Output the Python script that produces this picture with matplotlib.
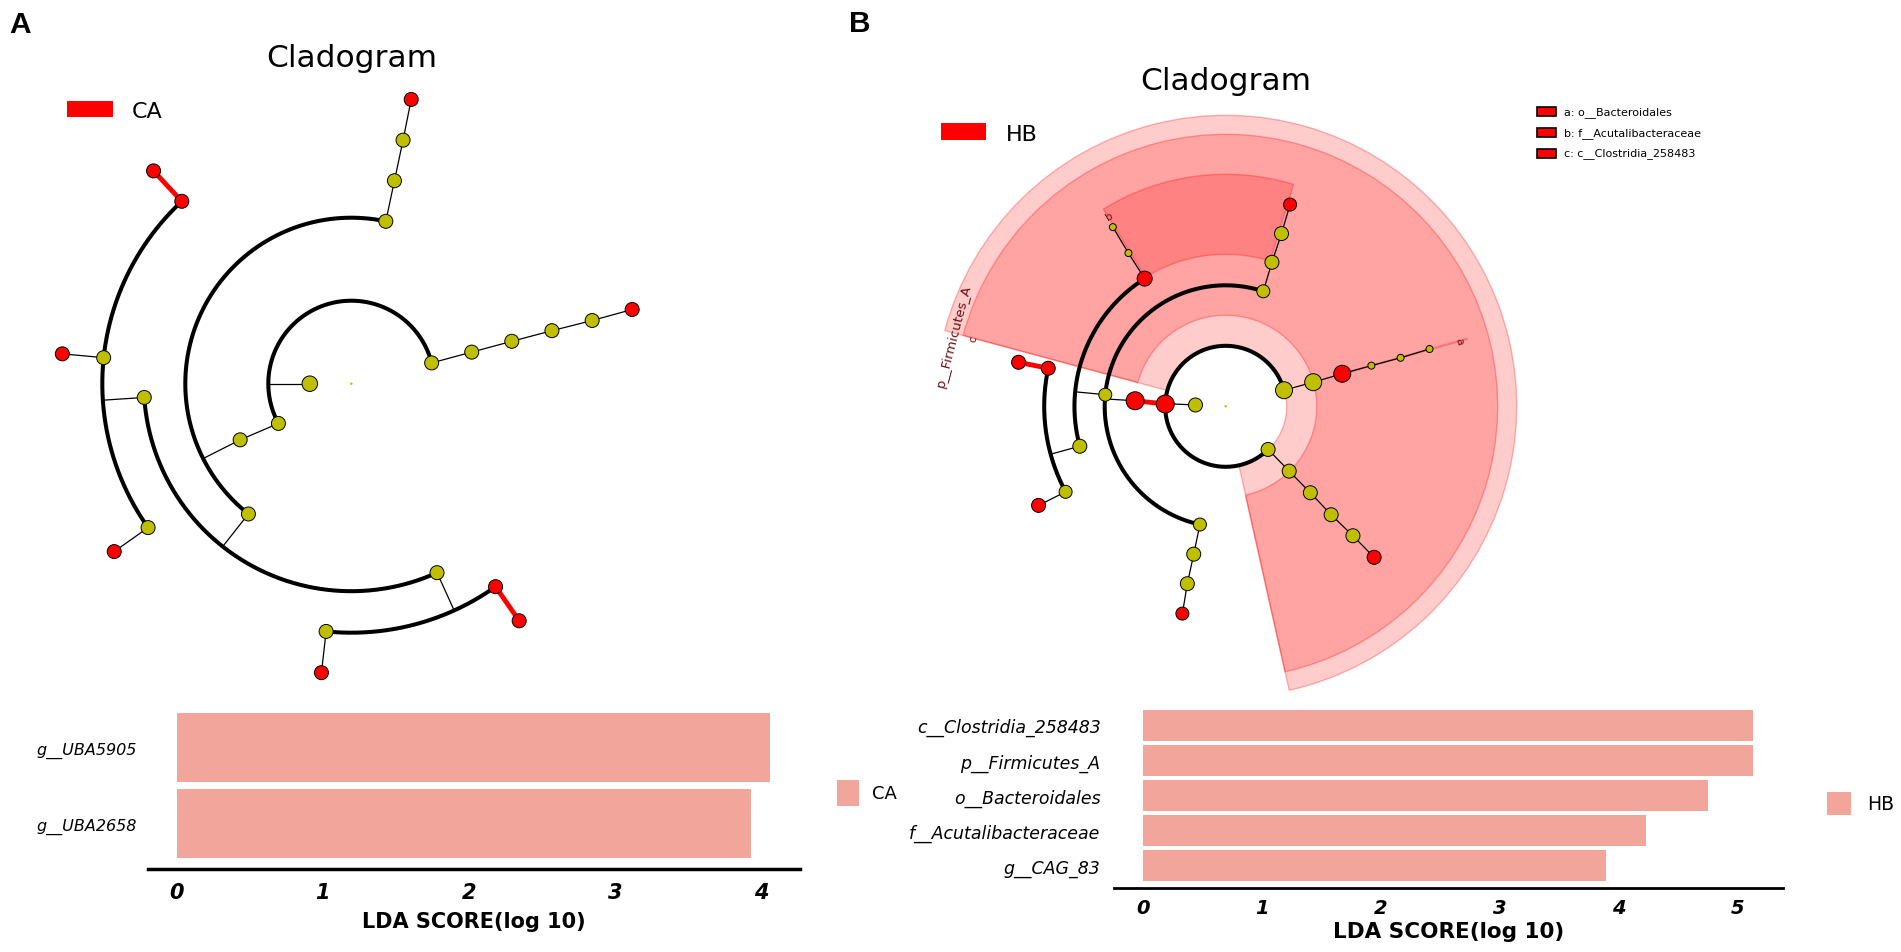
import numpy as np
import matplotlib
matplotlib.use("Agg")
import matplotlib.pyplot as plt
from matplotlib.patches import Rectangle

W, H, DPI = 1901, 953, 100
fig = plt.figure(figsize=(W / DPI, H / DPI), dpi=DPI)
fig.patch.set_facecolor('white')
plt.rcParams['font.family'] = ['DejaVu Sans']

def fx(px):
    return px / W

def fy(py):
    return 1 - py / H

RED = '#ff0000'
YEL = (0.75, 0.75, 0.0)
BAR = '#f2a59b'
LBL = '#6b1111'

# ---------------- Panel A cladogram (tree: level, angle in degrees, parent, colour, size px)
A_level  = [0, 1, 2, 2, 3, 4, 5, 6, 7, 3, 4, 4, 5, 6, 7, 5, 5, 6, 7, 6, 7, 6, 7, 6, 7, 6, 7]
A_theta  = [0, 180, 14.5, 208.6, 14.7, 14.8, 14.8, 14.7, 14.8, 206.8, 78.0, 231.7, 78.0, 78.0, 78.1,
            183.8, 294.4, 132.9, 132.9, 174.0, 174.1, 215.3, 215.3, 264.2, 264.1, 305.4, 305.3]
A_parent = [-1, 0, 1, 1, 2, 4, 5, 6, 7, 3, 9, 9, 10, 12, 13, 11, 11, 15, 17, 15, 19, 15, 21, 16, 23, 16, 25]
A_color  = ['y', 'y', 'y', 'y', 'y', 'y', 'y', 'y', 'r', 'y', 'y', 'y', 'y', 'y', 'r',
            'y', 'y', 'r', 'r', 'y', 'r', 'y', 'r', 'y', 'r', 'r', 'r']
A_size   = [2.5, 15.5, 14, 14, 14, 14, 14, 14, 14, 14, 14, 14, 14, 14, 14,
            14, 14, 14, 14, 14, 14, 14, 14, 14, 14, 14, 14]

# ---------------- Panel B cladogram
B_level  = [0, 1, 2, 2, 2, 3, 4, 4, 4, 5, 6, 7, 5, 5, 6, 7, 6, 7, 6, 7, 5, 6, 7, 3, 4, 5, 6, 7, 3, 4, 5, 6, 7]
B_theta  = [0, 177.5, 177.8, 15.4, 314.5, 176.5, 71.9, 174.5, 257.7, 72.2, 72.1, 72.3, 122.4, 195.3,
            122.4, 122.2, 167.9, 168.0, 208.1, 207.9, 257.8, 257.8, 258.2, 15.4, 15.6, 15.6, 15.5, 15.7,
            314.4, 314.4, 314.2, 314.5, 314.5]
B_parent = [-1, 0, 1, 1, 1, 2, 5, 5, 5, 6, 9, 10, 7, 7, 12, 14, 13, 16, 13, 18, 8, 20, 21, 3, 23, 24, 25, 26,
            4, 28, 29, 30, 31]
B_color  = ['y', 'y', 'r', 'y', 'y', 'r', 'y', 'y', 'y', 'y', 'y', 'r', 'r', 'y', 'y', 'y', 'r', 'r', 'y', 'r',
            'y', 'y', 'r', 'y', 'r', 'y', 'y', 'y', 'y', 'y', 'y', 'y', 'r']
B_size   = [2.5, 14, 18, 17, 14, 18, 13, 13, 13, 14, 14, 13, 15, 14, 7, 7, 14, 14, 13, 14, 14, 14, 13,
            17, 17, 7, 7, 7, 14, 14, 14, 14, 14]

# shaded clades in panel B: angle range, inner/outer radius
B_wedge_lo   = [-77.4, -77.4, 73.0]
B_wedge_hi   = [164.9, 164.9, 121.8]
B_wedge_rin  = [61, 91, 152]
B_wedge_rout = [291, 272, 232]
B_clade_lbl   = ['p__Firmicutes_A', 'c', 'b', 'a']
B_clade_theta = [165.3, 165.0, 121.3, 15.75]
B_clade_r     = [281, 261, 223, 243]
B_clade_fs    = [9.5, 8, 8, 8]
B_key_letters = ['a: o__Bacteroidales', 'b: f__Acutalibacteraceae', 'c: c__Clostridia_258483']

# ---------------- LDA bars (top to bottom)
A_taxa = ['g__UBA5905', 'g__UBA2658']
A_lda = [4.06, 3.93]
B_taxa = ['c__Clostridia_258483', 'p__Firmicutes_A', 'o__Bacteroidales', 'f__Acutalibacteraceae', 'g__CAG_83']
B_lda = [5.13, 5.13, 4.75, 4.23, 3.89]

ARC_LW = 2.9
THIN_LW = 0.9
RED_LW = 3.5


def draw_clado(cx, cy, R, step, level, theta, parent, color, size):
    ax = fig.add_axes([fx(cx - R), fy(cy + R), 2 * R / W, 2 * R / H], projection='polar')
    ax.set_ylim(0, R)
    ax.set_axis_off()
    n = len(level)
    th = np.array(theta, dtype=float)
    rad = np.array(level, dtype=float) * step
    children = {i: [j for j in range(n) if parent[j] == i] for i in range(n)}
    for p in range(1, n):
        ch = children[p]
        if not ch:
            continue
        if len(ch) > 1:
            rc = rad[ch[0]]
            angs = [th[c] for c in ch] + [th[p]]
            t = np.radians(np.linspace(min(angs), max(angs), 400))
            ax.plot(t, np.full_like(t, rc), color='black', lw=ARC_LW, solid_capstyle='butt', zorder=2)
            ax.plot(np.radians([th[p], th[p]]), [rad[p], rc], color='black', lw=THIN_LW, zorder=2)
        else:
            c = ch[0]
            both = color[p] == 'r' and color[c] == 'r'
            ax.plot(np.radians([th[p], th[c]]), [rad[p], rad[c]],
                    color=RED if both else 'black', lw=RED_LW if both else THIN_LW, zorder=2)
    cols = [RED if c == 'r' else YEL for c in color]
    s = (np.array(size) * 0.72) ** 2
    lws = [0 if parent[i] < 0 else 0.7 for i in range(n)]
    ax.scatter(np.radians(th), rad, s=s, c=cols, edgecolors='black', linewidths=lws, zorder=5)
    return ax


# ---- Panel A
axA = draw_clado(351.3, 384.7, 300, 41.5, A_level, A_theta, A_parent, A_color, A_size)

# ---- Panel B
axB = draw_clado(1225.7, 407.3, 300, 30.25, B_level, B_theta, B_parent, B_color, B_size)
for lo, hi, ri, ro in zip(B_wedge_lo, B_wedge_hi, B_wedge_rin, B_wedge_rout):
    axB.bar(np.radians((lo + hi) / 2), ro - ri, width=np.radians(hi - lo), bottom=ri,
            color=(1, 0, 0, 0.2), edgecolor=(1, 0, 0, 0.28), linewidth=1, zorder=1)
axB.plot(np.radians([15.6, 15.6]), [121, 250], color=(1, 0, 0, 0.3), lw=1.5, zorder=1)
for lbl, t, r, fs in zip(B_clade_lbl, B_clade_theta, B_clade_r, B_clade_fs):
    axB.text(np.radians(t), r, lbl, rotation=t - 90, rotation_mode='anchor', ha='center', va='center',
             fontsize=fs, color=LBL, zorder=6)

# ---- titles, panel letters, legends
fig.text(fx(351.3), fy(67.3), 'Cladogram', ha='center', va='baseline', fontsize=22.5)
fig.text(fx(1225.7), fy(90), 'Cladogram', ha='center', va='baseline', fontsize=22.5)
fig.text(fx(9.5), fy(32.6), 'A', ha='left', va='baseline', fontsize=21.5, fontweight='bold',
         family=['Liberation Sans', 'DejaVu Sans'])
fig.text(fx(849), fy(32.5), 'B', ha='left', va='baseline', fontsize=21.5, fontweight='bold',
         family=['Liberation Sans', 'DejaVu Sans'])

fig.patches.append(Rectangle((fx(67), fy(118.4)), (112.5 - 67) / W, (118.4 - 101.7) / H,
                             transform=fig.transFigure, color=RED, lw=0))
fig.text(fx(131.7), fy(118), 'CA', ha='left', va='baseline', fontsize=16)
fig.patches.append(Rectangle((fx(941), fy(140.5)), (986.3 - 941) / W, (140.5 - 124.4) / H,
                             transform=fig.transFigure, color=RED, lw=0))
fig.text(fx(1006), fy(141), 'HB', ha='left', va='baseline', fontsize=16)

for k, txt in enumerate(B_key_letters):
    yc = 112.8 + k * 20.6
    fig.patches.append(Rectangle((fx(1537), fy(yc + 4.5)), 19 / W, 9 / H, transform=fig.transFigure,
                                 facecolor=RED, edgecolor='black', lw=1.2))
    fig.text(fx(1564), fy(yc), txt, ha='left', va='center', fontsize=8)


def draw_bars(left, right, top, bottom, taxa, vals, xlim, ylim, height, nt, yfs, xfs, lfs, xpad, ypad,
              label_y, spine_lw):
    ax = fig.add_axes([fx(left), fy(bottom), (right - left) / W, (bottom - top) / H])
    ax.patch.set_alpha(0)
    y = np.arange(len(vals))
    ax.barh(y, vals[::-1], height=height, color=BAR, edgecolor='none')
    ax.set_xlim(*xlim)
    ax.set_ylim(*ylim)
    ax.set_yticks(y)
    ax.set_yticklabels(taxa[::-1], fontstyle='italic', fontsize=yfs)
    ax.set_xticks(range(nt + 1))
    ax.set_xticklabels([str(i) for i in range(nt + 1)], fontweight='bold', fontstyle='italic', fontsize=xfs)
    for s in ['top', 'right', 'left']:
        ax.spines[s].set_visible(False)
    ax.spines['bottom'].set_linewidth(spine_lw)
    ax.tick_params(axis='both', length=0)
    ax.tick_params(axis='x', pad=xpad)
    ax.tick_params(axis='y', pad=ypad)
    ax.set_xlabel('LDA SCORE(log 10)', fontweight='bold', fontsize=lfs)
    ax.xaxis.set_label_coords(0.5, (bottom - label_y) / (bottom - top))
    ax.xaxis.label.set_verticalalignment('center')
    return ax


draw_bars(147.5, 799.8, 710.5, 870.3, A_taxa, A_lda, (-0.2, 4.265), (-0.6, 1.5), 0.9, 4,
          11.5, 15, 15, 9.5, 8, 921.5, 2.5)
draw_bars(1113.8, 1783.2, 708.6, 889.0, B_taxa, B_lda, (-0.25, 5.385), (-0.64, 4.5), 0.88, 5,
          12.5, 14, 15.5, 7, 9.6, 932, 2.0)

fig.patches.append(Rectangle((fx(837), fy(806.6)), 22 / W, 25.6 / H, transform=fig.transFigure,
                             color=BAR, lw=0))
fig.text(fx(871.7), fy(794.4), 'CA', ha='left', va='center', fontsize=13)
fig.patches.append(Rectangle((fx(1826.7), fy(816)), 24.3 / W, 22.7 / H, transform=fig.transFigure,
                             color=BAR, lw=0))
fig.text(fx(1866.7), fy(805), 'HB', ha='left', va='center', fontsize=13.5)

fig.savefig('out.png', dpi=DPI, facecolor='white')
